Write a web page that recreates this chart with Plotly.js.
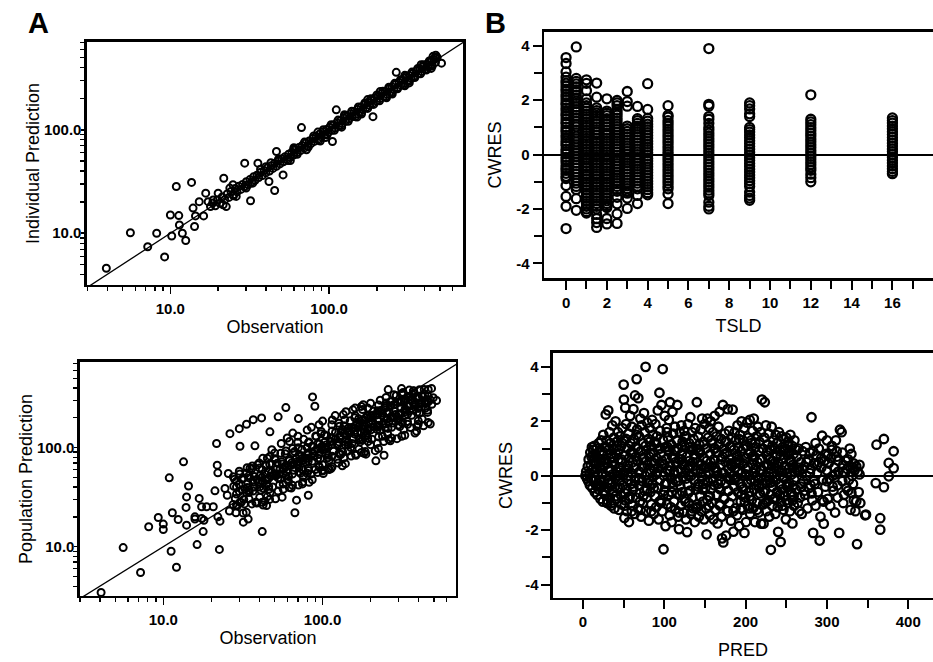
<!DOCTYPE html>
<html><head><meta charset="utf-8">
<script src="https://cdn.plot.ly/plotly-3.0.1.min.js"></script>
<style>html,body{margin:0;padding:0;background:#fff}#chart{width:933px;height:662px}</style>
</head><body><div id="chart"></div>
<script>
// ===== Panel A (top): Individual Prediction vs Observation =====
const a1ObsOut = [3.95,5.6,7.2,8.2,9.2,10.0,10.2,10.9,11.3,11.4,
11.9,12.5,13.6,13.9,14.2,14.4,15.2,16.2,16.7,17.3,
17.9,18.6,20.0,21.5,21.7,22.5,23.7,24.8,26,29.4,
30,32,35.6,41.8,45.4,46.6,51.3,67,105,111,
265,189,452,470,511,440];
const a1IpredOut = [4.58,10.1,7.4,10.0,5.9,15.0,9.4,28.3,14.8,12.0,
10.0,8.5,31,17.5,11.6,14.7,20.2,14.7,24.4,20.2,
18.1,21,24.4,18.8,34,18.1,27.3,29.4,22.7,47.6,
27.3,20.6,47.6,31.6,25.9,61.7,36.6,105,77,156,
359,134,513,500,441,470];
const a1ObsBand = [18.5,19.2,19.8,20.5,21.2,22.0,22.8,23.4,24.1,24.9,
25.6,26.3,27.0,27.8,28.5,29.3,30.1,30.9,31.7,32.6,
33.4,34.2,35.1,36.0,37.0,38.0,39.0,40.0,41.0,42.1,
43.2,44.3,45.4,46.6,47.8,49.0,50.2,51.5,52.8,54.1,
55.5,56.9,58.3,59.8,61.3,62.9,64.5,66.1,67.8,69.5,
71.3,73.1,75.0,76.9,78.8,80.8,82.9,85.0,87.2,89.4,
91.7,94.0,96.4,98.9,101,104,106,109,112,115,
118,121,124,127,130,133,137,140,144,147,
151,155,159,163,167,171,176,180,185,189,
194,199,204,209,215,220,226,231,237,243,
249,256,262,269,276,283,290,297,305,313,
321,329,337,346,355,364,373,383,392,402,
413,423,434,445,457,468,480];
const a1IpredBand = [19.6,18.4,21.0,19.5,22.4,21.1,24.0,22.2,25.3,23.6,
27.0,25.1,28.4,26.5,29.6,28.1,31.5,29.4,33.0,31.2,
35.1,32.5,36.4,34.6,38.8,36.1,40.5,38.3,42.9,40.0,
44.9,42.3,47.6,44.4,49.9,46.8,52.5,49.0,55.0,51.8,
57.9,54.2,60.8,57.1,64.0,60.2,67.3,63.0,70.6,66.4,
74.5,69.8,78.1,73.6,82.2,77.2,86.4,81.2,91.0,85.3,
95.6,89.8,100.5,94.3,106,99,111,104,117,109,
123,115,130,121,136,127,143,134,150,141,
158,148,166,156,175,163,184,172,193,181,
203,190,213,200,224,210,236,221,248,232,
260,244,274,257,288,270,303,284,318,299,
335,314,352,331,370,348,389,366,409,384,
430,405,452,425,476,448,500];
const a1ObsSpread = [25,33,40,48,55,60,63,70,74,80,
86,92,97,103,108,114,120,126,132,139,
146,153,160,168,175,183,191,200,208,218,
228,238,248,259,270,282,294,306,319,333,
347,362,377,393,410,428,446,465,
57,72,88,95,120,150,160,230,250,300,320,440,
37,43,60,85,125,175,210,300,380,470];
const a1IpredSpread = [23,30.5,44,52,50.5,65,58,76,68,87,
79,100,89,112,99,124,110,137,121,151,
134,166,147,182,161,199,176,217,191,236,
210,258,228,281,249,305,271,332,294,361,
320,392,348,425,378,463,412,500,
50.5,64,78,84,106,133,142,204,222,266,284,392,
41.5,48,67,95,140,196,235,336,425,525];

// ===== Panel A (bottom): Population Prediction vs Observation =====
const a2ObsOut = [4.07,5.6,7.2,8.1,9.3,10,10,10.9,11.2,11.4,
12.1,12.4,13.4,13.9,14.4,14.0,14,15.8,15.8,16.3,
16.8,17.4,17.4,17.8,18,18.7,20.6,21.1,21.6,21.8,
22,22,22.7,22.5,24.4,25.2,25.6,26,26.2,27.5,
28.8,30,30.3,31.8,33.3,34.1,36.7,37.6,41.4,41.8,
42.3,44.5,46.7,52.6,58.8,86.5,89.4,67,68.6,81.3,
70.5,101,187,216,243,389,258,313,371,495,
485,519];
const a2PredOut = [3.45,9.8,5.5,15.9,19.7,16.9,14.9,49.5,9.0,22,
6.2,18.8,71.8,24.9,41,31.8,16.5,20,19,10.5,
30.7,25.3,19.3,14.2,18.5,25.3,25.3,36.6,110,66.4,
55.6,20,18.1,9.4,38.6,33,54.7,22.9,138,50.7,
26.3,155,103,17.7,172,19,191,104,199,14.2,
26.3,26,144,204,253,324,261,22,29.5,33,
196,54.7,85.8,73.5,83.7,146,384,393,371,318,
273,298];
const a2Obs1 = [28.6,29.1,31.7,32.3,33.2,36,38.4,38.7,41.8,43.4,46.5,46.8,50.6,52.5,55.7,56.6,61.8,63.6,64.7,70.6,74.8,75.3,82.3,84.6,86.1,93.1,99.6,100,108,113,114.7,124,133,136,139,151,161,162,175,182,185,200,214,220,224,242,260,266,271,293,314,323,328,356,380,391,398,430,460,474];
const a2Pred1 = [22,25.7,21.9,27,22.3,27,27.8,27.6,28.1,28.8,30,35.3,30.4,36.4,31.6,38,39.6,39,41.6,41.9,43,51.4,44.7,54.1,47.4,56,58.9,58,61.4,61.4,64,76,65.6,79,68.8,82,85.6,83.6,89.4,87.4,91,107,93.1,111,97.7,115,121,117,125,123,130,152,133,159,140,164,172,166,179,173];
const a2Obs2 = [27.4,30.3,30.8,32,34.6,34.5,36.6,40.3,41,42.6,46,45.9,48.6,53.6,54.6,56.6,61.2,61.1,64.7,71.3,72.6,75.3,81.5,81.3,86.1,95,96.7,100,108,108.6,114.7,126.7,129,133.7,144.8,144.5,152.9,169,172,178,192.8,192,204,224.5,229,237.6,257,256,271.5,298.7,305,316.8,341.7,341,362,398.6,406,421.7,456,455];
const a2Pred2 = [26.6,28.1,27.9,30,35.3,30.4,36.4,31.6,37,38.5,38,40.6,40,42,48.2,42.8,51,45.6,54,56.7,55.1,59.3,58.6,62,72.8,63.7,77,67,79,83.5,81.7,87.4,85.6,90,106,92.2,110,96.7,114,120,115,125,121,128,149,130,156,137,160,169,163,177,172,183,212,186,222,194,226,238];
const a2Obs3 = [28.3,28.8,31.4,33.3,33.6,34.5,37.3,39.5,40.2,44.3,44.6,45.9,49.6,52.5,53.5,58.9,59.4,61.1,66,69.9,71.1,78.4,79.1,81.3,87.9,93.1,94.8,104,104.9,108.6,117,124.2,126.4,139,140.6,144.5,156,165.6,168.6,185.4,187,192,208,220,224.4,247.2,249.5,256,277,292.9,298.9,329.6,331.7,341,369,390.9,397.9,438.8,442.5,455];
const a2Pred3 = [30.7,34,37.5,35.2,39.5,37.2,40,44.9,39.9,46.8,42.8,49,53.5,49.4,54.1,52.1,57,65.3,58.9,68.6,62.3,71,78.1,73.2,82.2,78.1,85,96.3,87.4,102,92.1,105,114,107,120,113,123,140,125,146,131,150,162,152,168,159,174,196,177,205,186,212,230,217,240,227,248,279,250,288];
const a2Obs4 = [27.7,30,29.9,32.6,33.9,36.7,36.6,38.7,41.8,41.7,45.6,47.3,51.1,51,54.1,58.3,58.2,63.6,66,71.3,71.1,75.3,81.5,81.3,88.8,92.2,99.6,99,105,114.2,113.5,124.2,129,139,139.2,147.5,159,159.1,173.7,180,194.7,194,206,222.4,222.1,242.4,252,271.9,271.5,287.1,311,310.4,338.4,352,380,379.3,402,438.8,438,473.7];
const a2Pred4 = [40.7,36.1,42.6,38.1,44,47.1,44.7,47.8,46.5,50,57.8,51.3,60.3,53,61,65.3,63.7,69.7,67.9,72,84.5,74.1,88.4,78.1,92,97.4,95,103,100,107,124,109,130,114,135,142,137,149,144,153,177,156,184,163,190,200,194,208,203,216,251,220,262,233,271,287,276,297,286,303];
const a2Obs5 = [28.8,28.8,31.1,32,34.6,34.5,37.3,40.3,40.2,43.4,44.2,48.2,48.1,52,55.7,55.5,61.8,61.7,66.7,68.5,74.1,73.8,79.9,86.3,86.1,93.1,95.7,103,102.8,112,120.5,120.5,130.3,133.7,144.8,144.5,156,168.9,168.6,181.8,187,202,201.8,218,236,235.2,254.5,261.4,282.5,281.3,305,329.6,328.3,355.5,365.3,394.7,393.8,426,460.4,459.6];
const a2Pred5 = [45.8,40,48,49.2,49.4,52,51.2,52,62.1,54.2,65.5,56.7,68,69.6,68.4,71.8,73.5,76,91,77.9,95.7,82.8,100,103,103,109,109,113,135,116,142,123,146,151,149,157,157,163,195,166,201,174,207,213,211,223,221,229,272,234,286,246,295,305,300,317,316,326,385,329];
const a2Obs6 = [28,30,30.2,33.3,33.6,36,36.2,39.1,41.8,42.1,46.5,46.8,50.1,50.4,54.6,58.3,58.8,64.9,65.3,69.9,70.4,76.1,81.5,82.1,90.5,91.3,97.7,98,106,114.2,114.7,126.7,127.7,136.4,137.7,149,159.1,160.7,177.2,178.2,190.9,192,208,222.4,224.4,247.2,249.5,266.6,268.7,290,311,313.6,345,348.5,372.7,375.4,406,434.5,438,483];
const a2Pred6 = [48,57.8,54,55.2,62.6,61.4,65.1,67,59.8,77.8,68.2,81.9,76,77.3,87.5,86.4,92.4,98,88.3,113,99.8,121,112,114,131,129,138,145,131,170,147,176,164,166,191,186,200,209,188,242,208,250,232,235,269,261,281,290,263,335,293,347,325,322,373,355,383,385,345,395];
const a2ObsExtra = [55,60,48,65,70,85,100,120,140,160,
180,75,90,110,130,150,200,240,280,330,
380,300,260,220,190,170,350,320,280,250,
230,200,175,155,135,115,95,80,62,50,
45,40,35,110,125,95,80,60,45,38,
400,420,460,350,300,
45,51,57,63,69,75,81,87,93,99,
105,112,120,128,136,144,152,162,172,182,
195,207,220,234,248,264,280,295,312,330,
350,370,395,420];
const a2PredExtra = [110,125,95,140,130,160,185,210,230,250,
270,45,60,75,85,100,150,175,200,240,
270,190,180,160,140,120,380,360,340,320,
300,280,260,240,215,190,170,150,115,88,
78,70,62,60,70,65,55,48,32,28,
260,280,290,260,215,
48,52,61,66,72,78,84,88,96,101,
106,114,121,130,138,145,158,165,174,188,
198,212,222,238,252,262,270,288,300,310,
325,338,330,335];

// ===== Panel B (top): CWRES vs TSLD =====
const tsldLevels = [0,0.5,1,1.5,2,2.5,3,3.5,4,5,7,9,12,16];
const cwT0 = [3.57,3.35,3.04,2.85,2.72,2.63,2.52,2.41,2.33,2.21,2.12,2.01,1.9,1.83,1.71,1.62,1.5,1.43,1.31,1.2,1.13,1.01,0.9,0.83,0.71,0.62,0.5,0.41,0.33,0.2,0.11,0.02,-0.1,-0.19,-0.28,-0.4,-0.5,-0.58,-0.69,-0.8,-0.88,-1.14,-1.54,-1.9,-2.72];
const cwT05 = [3.96,2.8,2.69,2.6,2.49,2.38,2.3,2.18,2.08,1.97,1.88,1.76,1.65,1.56,1.44,1.35,1.22,1.12,1.02,0.9,0.8,0.68,0.58,0.47,0.36,0.25,0.14,0.04,-0.08,-0.18,-0.3,-0.4,-0.51,-0.62,-0.72,-0.84,-0.95,-1.05,-1.17,-1.28,-1.62,-2.05];
const cwT1 = [2.75,2.62,2.35,2.05,1.9,1.8,1.7,1.6,1.49,1.4,1.3,1.19,1.1,1.0,0.89,0.8,0.7,0.6,0.49,0.4,0.3,0.2,0.1,0.0,-0.1,-0.2,-0.3,-0.41,-0.5,-0.6,-0.7,-0.8,-0.9,-1.0,-1.1,-1.2,-1.3,-1.41,-1.5,-1.6,-1.7,-1.8,-1.9,-2.0,-2.1,-2.15];
const cwT15 = [2.63,2.11,1.72,1.62,1.53,1.44,1.33,1.22,1.13,1.02,0.92,0.81,0.71,0.6,0.5,0.41,0.3,0.2,0.1,0.0,-0.1,-0.21,-0.3,-0.4,-0.5,-0.61,-0.7,-0.8,-0.9,-1.01,-1.1,-1.2,-1.3,-1.4,-1.5,-1.6,-1.7,-1.8,-1.9,-2.0,-2.2,-2.35,-2.5,-2.68];
const cwT2 = [2.05,1.6,1.52,1.43,1.32,1.22,1.11,1.02,0.9,0.8,0.71,0.6,0.5,0.4,0.3,0.19,0.1,0.0,-0.1,-0.2,-0.31,-0.4,-0.5,-0.6,-0.7,-0.8,-0.9,-1.0,-1.1,-1.2,-1.3,-1.4,-1.5,-1.6,-1.7,-1.8,-1.88,-1.95,-2.35,-2.55];
const cwT25 = [1.99,1.9,1.8,1.65,1.55,1.45,1.34,1.24,1.13,1.03,0.92,0.82,0.71,0.61,0.5,0.4,0.29,0.19,0.08,-0.02,-0.12,-0.23,-0.33,-0.44,-0.54,-0.65,-0.75,-0.86,-0.96,-1.07,-1.17,-1.28,-1.35,-1.57,-1.81,-2.18,-2.53];
const cwT3 = [2.32,1.95,1.78,1.05,0.95,0.85,0.74,0.64,0.53,0.43,0.32,0.22,0.11,0.01,-0.1,-0.2,-0.31,-0.41,-0.52,-0.62,-0.73,-0.83,-0.94,-1.04,-1.15,-1.25,-1.36,-1.42,-1.6,-1.98];
const cwT35 = [1.77,1.32,1.25,1.15,1.05,0.94,0.84,0.73,0.63,0.52,0.42,0.31,0.21,0.1,0.0,-0.11,-0.21,-0.32,-0.42,-0.53,-0.63,-0.74,-0.84,-0.95,-1.05,-1.16,-1.26,-1.5,-1.8];
const cwT4 = [2.61,1.66,1.33,1.23,1.12,1.02,0.91,0.81,0.7,0.6,0.49,0.39,0.28,0.18,0.07,-0.03,-0.14,-0.24,-0.35,-0.45,-0.56,-0.66,-0.77,-0.87,-0.98,-1.08,-1.19,-1.29,-1.4,-1.48];
const cwT5 = [1.8,1.45,1.38,1.25,1.15,1.05,0.94,0.84,0.73,0.63,0.52,0.42,0.31,0.21,0.1,0.0,-0.11,-0.21,-0.32,-0.42,-0.53,-0.63,-0.74,-0.84,-0.95,-1.05,-1.16,-1.26,-1.45,-1.8];
const cwT7 = [3.9,1.85,1.78,1.4,1.3,1.15,1.0,0.9,0.79,0.69,0.58,0.48,0.37,0.27,0.16,0.06,-0.05,-0.15,-0.26,-0.36,-0.47,-0.57,-0.68,-0.78,-0.89,-0.99,-1.1,-1.2,-1.31,-1.41,-1.5,-1.75,-1.9,-2.0];
const cwT9 = [1.9,1.8,1.68,1.5,1.4,1.0,0.92,0.83,0.72,0.62,0.51,0.41,0.3,0.2,0.09,-0.01,-0.12,-0.22,-0.33,-0.43,-0.54,-0.64,-0.75,-0.85,-0.96,-1.06,-1.17,-1.38,-1.5,-1.6,-1.68];
const cwT12 = [2.2,1.3,1.2,1.1,0.99,0.89,0.78,0.68,0.57,0.47,0.36,0.26,0.15,0.05,-0.06,-0.16,-0.27,-0.37,-0.48,-0.58,-0.72,-0.85,-1.0];
const cwT16 = [1.35,1.25,1.16,1.05,0.95,0.84,0.74,0.63,0.53,0.42,0.32,0.21,0.11,0.0,-0.1,-0.21,-0.31,-0.42,-0.52,-0.62,-0.7];

// ===== Panel B (bottom): CWRES vs PRED =====
const predB1 = [3,4,5,6,6.5,7,8,8.5,9,9.5,10,10.5,11,11.5,12,12.5,13,13.5,14,14.5,15,15.5,16,16.5,17,17.5,18,18.5,19,19.5,20,20.5,21,21.5,22,22.5];
const cwB1 = [0.0,0.15,-0.1,0.35,-0.2,0.6,0.1,-0.35,0.85,0.4,-0.1,0.7,1.05,-0.45,0.25,0.95,-0.2,0.55,1.1,-0.6,0.15,0.8,-0.35,0.45,1.0,-0.7,0.05,0.65,-0.5,1.2,0.3,-0.15,0.9,-0.85,0.5,1.3];
const predB2 = [23,23.5,24,24.5,25,25.5,26,26.5,27,27.5,28,28.5,29,29.5,30,30.5,31,31.5,32,32.5,33,33.5,34,34.5,35,35.5,36,36.5,37,37.5,38,38.5,39,39.5,40,40.5,41,41.5,42,42.5,43,43.5,44,44.5,45,45.5,46,46.5,47,47.5,48,48.5,49,49.5,50,50.3,50.6,50.9,51,51.5,52,52.5,53,53.5,54,54.5,55,55.5,56,56.5];
const cwB2 = [-0.4,0.1,0.75,-0.95,1.5,0.35,-0.2,1.05,-0.7,0.6,2.25,0.0,1.3,-1.0,0.45,-0.45,2.4,0.95,-0.15,1.6,-0.8,0.25,1.2,-1.1,0.7,-0.3,1.85,0.05,-0.6,1.0,1.4,-1.2,0.4,-0.1,2.0,0.8,-0.85,1.25,0.15,-0.45,1.6,0.6,-1.25,0.95,-0.2,1.45,0.3,-0.7,1.1,-1.05,0.5,1.75,-0.35,0.0,3.35,2.8,1.3,-1.55,0.75,-0.9,2.5,0.2,1.9,-0.5,-1.3,1.0,0.4,-0.15,1.55,-1.7];
const predB3 = [57,57.5,58,58.5,59,59.5,60,60.5,61,61.5,62,62.5,63,63.5,64,64.5,65,65.5,66,66.5,67,67.5,68,68.5,69,69.5,70,70.5,71,71.5,72,72.5,73,73.5,74,74.5,75,75.5,76,76.5,77,77.5,78,78.5,79,79.5,80,80.5,81,81.5,82,82.5,83,83.5,84,84.5,85,85.5,86,86.5,87,87.5,88,88.5,89,89.5,90,90.5,91,91.5,92,92.5,93,93.5,94,94.5,95,95.5,96,96.5,97,97.5,98,98.5,99,99.5,100,100.5,101,101.5];
const cwB3 = [0.65,-0.75,2.2,1.2,-0.3,0.1,1.8,-1.1,0.85,-0.5,2.45,1.35,0.3,-1.4,2.95,-0.05,1.05,-0.8,3.55,1.7,0.55,-1.2,2.85,-0.35,1.45,0.15,-0.65,2.1,0.9,-1.5,1.85,0.35,-0.2,-1.0,1.2,0.65,2.3,-0.55,1.6,0.0,4.0,-1.3,0.95,-0.8,1.95,0.4,-0.25,1.35,-1.65,0.7,1.75,0.1,-0.6,1.1,-1.05,0.5,2.05,-0.3,1.5,0.85,-1.4,0.25,1.25,-0.75,1.9,0.05,-1.15,0.65,1.45,-0.45,2.4,0.3,-1.6,1.0,3.05,-0.15,1.65,0.8,-0.9,2.6,0.45,-1.3,3.92,1.3,-2.7,0.0,-0.55,2.2,1.05,-1.85];
const predB4 = [102,102.5,103,103.5,104,104.5,105,105.5,106,106.5,107,107.5,108,108.5,109,109.5,110,110.5,111,111.5,112,112.5,113,113.5,114,114.5,115,115.5,116,116.5,117,117.5,118,118.5,119,119.5,120,120.5,121,121.5,122,122.5,123,123.5,124,124.5,125,125.5,126,126.5,127,127.5,128,128.5,129,129.5,130,130.5,131,131.5,132,132.5,133,133.5,134,134.5,135,135.5,136,136.5,137,137.5,138,138.5,139,139.5,140,140.5,141,141.5,142,142.5,143,143.5,144,144.5,145,145.5,146,146.5,147,147.5,148,148.5,149,149.5,150,150.5];
const cwB4 = [0.6,-0.25,1.75,-1.05,0.2,1.4,-0.7,2.05,0.9,-1.45,2.7,0.35,-0.1,1.15,-1.7,0.7,2.35,-0.4,1.55,0.05,-0.95,0.95,1.8,-1.25,0.5,-0.2,1.3,-0.65,2.6,0.15,-1.5,1.0,-1.96,0.6,1.6,-0.35,0.25,-1.1,1.85,0.8,-0.6,1.25,-0.05,-1.35,0.45,1.65,-0.85,1.05,0.1,-1.6,1.45,0.7,-2.07,-0.3,1.9,0.3,-1.0,1.2,0.55,-0.55,2.15,-1.4,0.0,0.95,1.6,-0.8,0.35,-1.2,1.35,-0.15,0.75,-1.7,1.75,0.2,-0.5,1.0,2.7,-1.05,0.5,1.45,-0.3,-1.5,1.15,0.85,-0.75,0.1,1.7,-1.3,0.4,2.1,-0.05,-0.95,1.25,0.65,-1.6,1.9,0.3,-0.45];
const predB5 = [151,151.5,152,152.5,153,153.5,154,154.5,155,155.5,156,156.5,157,157.5,158,158.5,159,159.5,160,160.5,161,161.5,162,162.5,163,163.5,164,164.5,165,165.5,166,166.5,167,167.5,168,168.5,169,169.5,170,170.5,171,171.5,172,172.5,173,173.5,174,174.5,175,175.5,176,176.5,177,177.5,178,178.5,179,179.5,180,180.5,181,181.5,182,182.5,183,183.5,184,184.5,185,185.5,186,186.5,187,187.5,188,188.5,189,189.5,190,190.5,191,191.5,192,192.5,193,193.5,194,194.5,195,195.5,196,196.5,197,197.5,198,198.5,199,199.5,200,200.5];
const cwB5 = [1.0,-1.2,-2.15,0.55,2.1,-0.2,1.4,-0.75,0.15,1.75,-1.45,0.8,2.0,-0.5,0.35,-1.0,1.2,-0.1,1.6,-1.6,0.6,-0.35,2.2,1.0,-1.25,0.2,1.45,-0.7,0.85,-1.75,0.0,1.8,-0.45,1.15,2.35,-1.1,0.4,-0.2,1.35,-1.5,-2.3,0.7,2.6,-2.45,0.1,1.0,-0.85,1.55,-0.3,0.5,-2.2,1.25,0.85,-1.3,2.45,-0.55,0.25,1.65,-1.0,0.6,-0.15,1.1,-1.65,0.4,1.4,-0.75,2.43,0.0,-2.05,0.95,-0.4,1.6,0.3,-1.2,1.3,-0.05,0.75,-1.45,1.85,-0.6,0.15,1.05,-1.85,0.55,1.5,-0.3,-0.95,0.9,2.0,0.1,-1.25,1.3,-0.5,0.45,1.75,-2.1,0.0,-0.8,1.1,-1.7];
const predB6 = [201,201.5,202,202.5,203,203.5,204,204.5,205,205.5,206,206.5,207,207.5,208,208.5,209,209.5,210,210.5,211,211.5,212,212.5,213,213.5,214,214.5,215,215.5,216,216.5,217,217.5,218,218.5,219,219.5,220,220.5,221,221.5,222,222.5,223,223.5,224,224.5,225,225.5,226,226.5,227,227.5,228,228.5,229,229.5,230,230.5,231,231.5,232,232.5,233,233.5,234,234.5,235,235.5,236,236.5,237,237.5,238,238.5,239,239.5,240,240.5,241,241.5,242,242.5,243,243.5,244,244.5,245,245.5,246,246.5,247,247.5,248,248.5,249,249.5,250,250.5,251,251.5,252,252.5,253,253.5,254,254.5,255,255.5,256,256.5,257,257.5,258,258.5,259,259.5,260,260.5];
const cwB6 = [0.65,-0.25,1.95,-1.1,0.3,1.4,-0.6,0.0,2.05,-1.4,0.85,-0.15,1.2,-0.9,0.45,1.65,-1.2,0.1,2.1,-0.5,0.7,-1.7,1.05,0.25,-0.35,1.45,-1.0,0.5,1.8,-0.1,-1.35,0.9,1.25,-0.65,0.2,1.6,-1.76,0.6,2.8,-0.3,1.0,-1.05,-1.76,0.35,1.4,2.7,-0.55,0.0,1.85,-1.3,0.75,-0.2,1.15,-0.9,0.4,1.55,-1.5,-0.05,0.95,-0.7,-2.72,0.25,1.8,-1.1,0.55,-0.4,1.3,0.1,-0.85,1.0,0.3,-1.4,1.5,-0.15,0.7,-0.6,1.2,-1.15,-2.06,0.45,1.6,-0.3,0.0,0.9,-2.43,-0.95,1.45,0.2,-0.5,1.05,0.6,-1.25,1.35,-0.1,0.35,-0.75,1.0,-1.6,1.4,0.1,-0.4,0.75,-1.0,1.25,0.25,-0.25,0.9,-1.3,1.5,0.5,-0.6,0.05,1.1,-1.75,0.4,-0.35,0.8,-1.1,1.3,0.15];
const predB7 = [262,263,264,265,266,267,268,269,270,271,272,273,274,275,276,277,278,279,280,281,282,283,283,284,285,286,287,288,289,290,291,292,293,294,295,296,297,298,299,300,301,302,303,304,305,306,307,308,309,310,311,312,313,314,315,316,318,319,320,321,322,323,324,325,326,327,329,330,331,332,333,334,335,336,336,337,338,339,340,341,347,348,361,370,382,376,382,376,360,370,365.5,365.5];
const cwB7 = [-0.5,0.7,-1.0,1.0,0.2,-0.8,0.5,-1.4,0.9,-0.2,0.35,-0.7,1.05,0.0,-1.2,0.6,-0.45,0.85,0.25,2.15,-0.9,0.9,-2.1,0.45,-0.3,-1.1,0.75,0.1,-0.6,1.0,-2.38,-1.5,0.3,1.47,-0.15,-1.76,0.55,-0.4,0.8,0.2,-0.85,0.45,-0.1,-1.1,0.65,1.1,0.0,-0.55,0.3,-1.35,1.3,0.7,-0.35,0.15,-2.1,1.69,1.6,-0.2,0.4,-0.7,0.1,0.55,-0.45,0.25,-0.55,0.35,-1.25,-0.63,0.0,0.3,-0.9,0.2,-1.3,-0.94,0.35,-2.51,0.15,-0.6,0.05,-1.0,-1.45,-1.43,1.14,1.35,0.9,0.47,0.28,-0.02,-0.27,-0.42,-1.56,-1.98];
const predB8 = [255,262,268,275,281,288,294,301,307,314,320,327,333,258,265,272,279,286,293,300,306,313,319,326,332,260,270,280,290,300,310,320,330,252,266,284,296,312,328,340];
const cwB8 = [0.6,0.95,-0.3,0.5,-0.65,0.4,-0.9,0.75,-0.4,0.55,0.15,-0.15,0.45,-0.9,0.3,-0.55,0.1,1.2,0.65,-0.2,0.95,-0.8,0.85,0.6,-0.3,-0.15,0.25,-0.35,0.5,1.3,0.05,-1.0,0.8,1.15,-1.3,-0.2,-0.95,0.9,1.0,0.4];
const predB9 = [14,19,24,27,31,35,38,42,46,49,53,57,61,64,68,71,75,79,83,86,90,94,97,101,105,108,112,116,119,123,127,131,134,138,142,145,149,153,157,160,164,168,171,175,179,183,186,190,194,197,201,205,209,212,216,220,224,227,231,235,239,243,246,250,254,258];
const cwB9 = [0.45,-0.3,0.9,-0.6,0.2,-1.0,0.65,1.1,-0.45,0.1,1.35,-0.85,0.5,-0.2,1.0,-1.25,0.3,-0.5,0.8,-0.05,1.2,-0.95,0.55,-0.3,0.95,-1.15,0.15,1.3,-0.7,0.4,-0.1,1.05,-1.3,0.65,-0.4,0.25,1.15,-0.9,0.5,-0.2,0.85,-1.05,0.1,1.25,-0.55,0.35,-0.15,0.7,-1.2,1.0,0.05,-0.75,0.6,1.2,-0.35,0.2,-1.0,0.9,-0.25,0.45,-0.6,0.75,-0.05,-0.9,0.55,0.3];
const predB10 = [16,21,26,29,33,37,40,44,48,51,55,59,62,66,70,73,77,81,84,88,92,95,99,103,107,110,114,118,121,125,129,132,136,140,144,147,151,155,158,162,166,170,173,177,181,185,188,192,196,199,203,207,211,214,218,222,226,229,233,237,241,245,248,252,256];
const cwB10 = [-0.15,0.6,-0.55,1.05,-0.25,0.5,-0.75,0.3,1.2,-1.1,0.0,0.85,-0.4,1.5,-0.95,0.65,1.1,-0.15,-1.3,0.45,-0.45,1.0,-0.7,1.6,0.2,-0.25,0.9,-1.35,0.6,1.45,-0.65,0.35,1.0,-1.15,0.85,-0.5,0.05,-1.1,1.3,0.3,-0.3,0.6,-0.8,-0.05,1.05,-1.3,0.5,1.35,-0.4,-0.95,0.8,1.3,-0.2,-1.25,0.6,-0.6,0.4,-0.15,1.1,-0.8,0.2,-1.1,0.95,-0.4,-0.7];
const predB11 = [12,17,22,25,30,34,39,43,47,52,56,60,65,69,74,78,82,87,91,96,100,104,109,113,117,122,126,130,135,139,143,148,152,156,161,165,169,174,178,182,187,191,195,200,204,208,213,217,221,226,230,234,238,242,247,251,255,259,263,268];
const cwB11 = [0.75,0.25,-0.2,0.55,-0.9,0.8,-0.4,0.0,0.6,-0.65,0.25,-1.3,0.7,-0.1,-0.75,0.55,1.25,-0.45,0.1,-1.0,0.4,1.05,-0.6,0.65,-0.2,1.1,-0.95,0.0,0.5,-1.2,0.95,-0.3,0.3,-0.75,1.0,0.15,-0.5,0.8,-1.3,0.45,-0.1,0.6,-0.7,0.25,-1.2,0.7,0.0,-0.45,1.0,-0.95,0.6,-0.2,0.25,-0.7,0.9,-0.3,0.5,-0.75,0.2,-0.4];

// identity reference line (y = x) for panel A
const identityLine = [1, 1000];
// tick labels
const logTickVals = [10, 100];
const logTickText = ['10.0', '100.0'];
const logMinorVals = [2,3,4,5,6,7,8,9,20,30,40,50,60,70,80,90,200,300,400,500,600,700,800,900];
const cwTickVals = [-4,-2,0,2,4];
const cwTickText = ['-4','-2','0','2','4'];

// ---------- build traces ----------
const tsldX = [], tsldY = [];
const cwCols = [cwT0,cwT05,cwT1,cwT15,cwT2,cwT25,cwT3,cwT35,cwT4,cwT5,cwT7,cwT9,cwT12,cwT16];
tsldLevels.forEach((lv, i) => { cwCols[i].forEach(v => { tsldX.push(lv); tsldY.push(v); }); });

const a2X = [].concat(a2ObsOut, a2Obs1, a2Obs2, a2Obs3, a2Obs4, a2Obs5, a2Obs6, a2ObsExtra);
const a2Y = [].concat(a2PredOut, a2Pred1, a2Pred2, a2Pred3, a2Pred4, a2Pred5, a2Pred6, a2PredExtra);
const a1X = [].concat(a1ObsOut, a1ObsBand, a1ObsSpread);
const a1Y = [].concat(a1IpredOut, a1IpredBand, a1IpredSpread);
const bX = [].concat(predB1,predB2,predB3,predB4,predB5,predB6,predB7,predB8,predB9,predB10,predB11);
const bY = [].concat(cwB1,cwB2,cwB3,cwB4,cwB5,cwB6,cwB7,cwB8,cwB9,cwB10,cwB11);

const mkA = {symbol:'circle-open', size:7, color:'#000', line:{width:2}};
const mkB1 = {symbol:'circle-open', size:9, color:'#000', line:{width:2.3}};
const mkB2 = {symbol:'circle-open', size:8.5, color:'#000', line:{width:2.3}};

const traces = [
  {x:identityLine, y:identityLine, xaxis:'x', yaxis:'y', mode:'lines', line:{color:'#000', width:1.3}, hoverinfo:'skip'},
  {x:a1X, y:a1Y, xaxis:'x', yaxis:'y', mode:'markers', marker:mkA},
  {x:identityLine, y:identityLine, xaxis:'x2', yaxis:'y2', mode:'lines', line:{color:'#000', width:1.3}, hoverinfo:'skip'},
  {x:a2X, y:a2Y, xaxis:'x2', yaxis:'y2', mode:'markers', marker:mkA},
  {x:tsldX, y:tsldY, xaxis:'x3', yaxis:'y3', mode:'markers', marker:mkB1},
  {x:bX, y:bY, xaxis:'x4', yaxis:'y4', mode:'markers', marker:mkB2}
];

const F = 'Liberation Sans, Arial, sans-serif';
const tickF = {family:F, size:15, color:'#000', weight:'bold'};
const titleF = {family:F, size:18, color:'#000'};
const base = {showline:true, linecolor:'#000', linewidth:2.5, showgrid:false, zeroline:false,
  ticks:'outside', tickcolor:'#000', tickfont:tickF, automargin:false, fixedrange:true};

function logAx(dom, rng, title, anchor, standoff, isY) {
  return Object.assign({}, base, {type:'log', domain:dom, range:rng, anchor:anchor, mirror:true,
    tickmode:'array', tickvals:logTickVals, ticktext:logTickText, ticklen:isY?3:7, tickwidth:1.5,
    ticklabelstandoff: isY ? -3 : 2,
    minor:{tickmode:'array', tickvals:logMinorVals, ticks:'outside', ticklen:4, tickwidth:1.3, tickcolor:'#000', showgrid:false},
    title:{text:title, font:titleF, standoff:standoff}});
}

const layout = {
  width:933, height:662, margin:{l:0,r:0,t:0,b:0}, showlegend:false,
  paper_bgcolor:'#fff', plot_bgcolor:'#fff',
  xaxis: logAx([0.0932,0.4963],[0.4745,2.844],'Observation','y',4,false),
  yaxis: logAx([0.5695,0.9366],[0.4995,2.849],'Individual Prediction','x',0,true),
  xaxis2: logAx([0.0857,0.4887],[0.477,2.837],'Observation','y2',4,false),
  yaxis2: logAx([0.0997,0.4532],[0.503,2.863],'Population Prediction','x2',0,true),
  xaxis3: Object.assign({}, base, {domain:[0.5831,1], range:[-1.08,17.99], anchor:'y3', mirror:true,
    tickmode:'linear', tick0:0, dtick:2, ticklen:9, tickwidth:2,
    minor:{tickmode:'array', tickvals:[1,3,5,7,9,11,13,15,17], ticks:'outside', ticklen:8, tickwidth:2, tickcolor:'#000'},
    title:{text:'TSLD', font:titleF, standoff:10}}),
  yaxis3: Object.assign({}, base, {domain:[0.58,0.9517], range:[-4.54,4.51], anchor:'x3', mirror:false,
    tickmode:'array', tickvals:cwTickVals, ticktext:cwTickText, ticklen:9, tickwidth:2,
    zeroline:true, zerolinecolor:'#000', zerolinewidth:2,
    minor:{tickmode:'array', tickvals:[-3,-1,1,3], ticks:'outside', ticklen:8, tickwidth:2, tickcolor:'#000'},
    title:{text:'CWRES', font:titleF, standoff:10}}),
  xaxis4: Object.assign({}, base, {domain:[0.5927,1], range:[-36.9,430.4], anchor:'y4', mirror:true,
    tickmode:'linear', tick0:0, dtick:100, ticklen:9, tickwidth:2,
    minor:{tickmode:'array', tickvals:[50,150,250,350], ticks:'outside', ticklen:8, tickwidth:2, tickcolor:'#000'},
    title:{text:'PRED', font:titleF, standoff:14}}),
  yaxis4: Object.assign({}, base, {domain:[0.0967,0.4668], range:[-4.49,4.51], anchor:'x4', mirror:false,
    tickmode:'array', tickvals:cwTickVals, ticktext:cwTickText, ticklen:9, tickwidth:2,
    zeroline:true, zerolinecolor:'#000', zerolinewidth:2.5,
    minor:{tickmode:'array', tickvals:[-3,-1,1,3], ticks:'outside', ticklen:8, tickwidth:2, tickcolor:'#000'},
    title:{text:'CWRES', font:titleF, standoff:8}}),
  annotations:[
    {text:'A', xref:'paper', yref:'paper', x:38/933, y:1-23/662, showarrow:false, font:{family:F, size:29, color:'#000', weight:'bold'}, xanchor:'center', yanchor:'middle'},
    {text:'B', xref:'paper', yref:'paper', x:495/933, y:1-23/662, showarrow:false, font:{family:F, size:29, color:'#000', weight:'bold'}, xanchor:'center', yanchor:'middle'}
  ]
};

Plotly.newPlot('chart', traces, layout, {displayModeBar:false, staticPlot:true});
</script></body></html>
